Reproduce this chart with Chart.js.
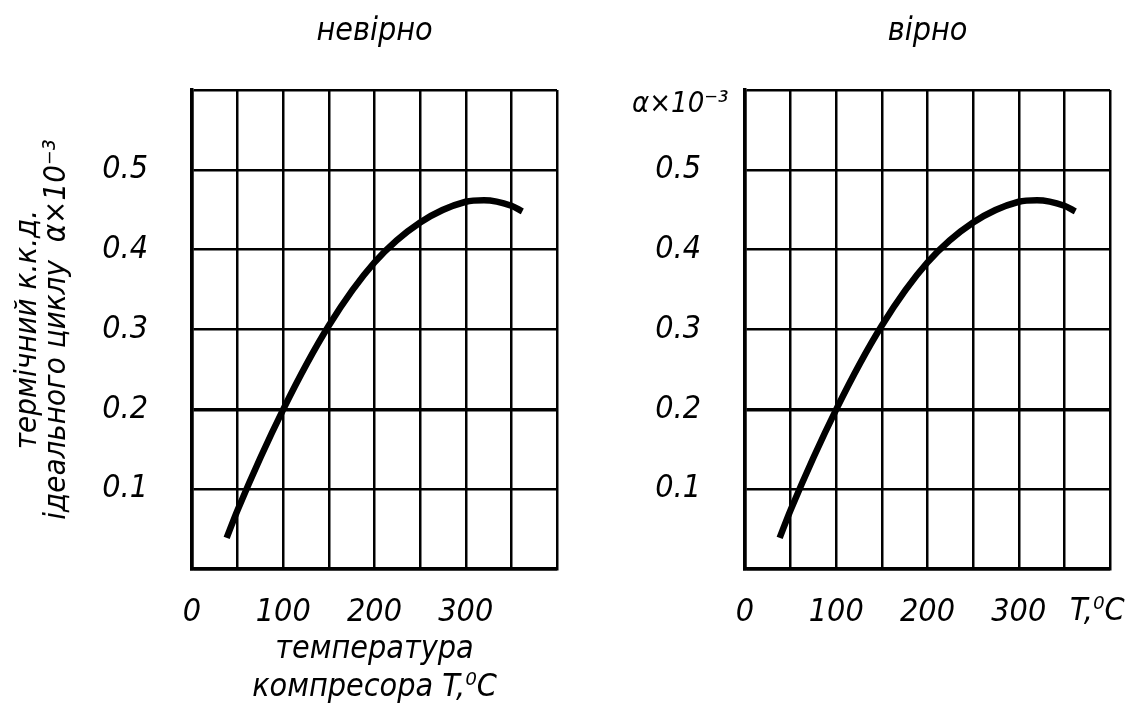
<!DOCTYPE html>
<html><head><meta charset="utf-8">
<script src="https://cdn.jsdelivr.net/npm/chart.js@4/dist/chart.umd.min.js"></script>
<style>
html,body{margin:0;padding:0;background:#fff;}
#wrap{position:relative;width:1130px;height:708px;overflow:hidden;}
.box{position:absolute;top:0;height:708px;width:565px;}
#b1{left:0;} #b2{left:565px;}
</style></head><body>
<div id="wrap">
  <div class="box" id="b1"><canvas id="c1" width="565" height="708"></canvas></div>
  <div class="box" id="b2"><canvas id="c2" width="565" height="708"></canvas></div>
</div>
<script>
// ---- data ----
const temperature = [38, 50, 100, 150, 200, 250, 300, 320, 350, 362];
const efficiency  = [0.039, 0.074, 0.2, 0.305, 0.384, 0.434, 0.46, 0.462, 0.455, 0.448];
const xTickLabels = ['0', '', '100', '', '200', '', '300', '', ''];
const yTickLabels = ['', '0.1', '0.2', '0.3', '0.4', '0.5', ''];
const titleWrong = 'невірно';
const titleRight = 'вірно';
const yTitleLines = ['термічний к.к.д.', 'ідеального циклу  α×10⁻³'];
const xTitleLines = ['температура', 'компресора T,⁰C'];
const yUnitText = 'α×10⁻³';
const xUnitText = 'T,⁰C';

const FAM = "'Liberation Sans Narrow', 'DejaVu Sans Condensed', 'DejaVu Sans', sans-serif";
const font = (size, lh) => ({family: FAM, style: 'italic', weight: 'normal', size: size, lineHeight: lh || 1.2});

function makeConfig(opts) {
  return {
    type: 'line',
    data: {
      datasets: [{
        data: temperature.map((t, i) => ({x: t, y: efficiency[i]})),
        borderColor: '#000',
        borderWidth: 6.5,
        pointRadius: 0,
        fill: false,
        cubicInterpolationMode: 'monotone',
        borderCapStyle: 'butt'
      }]
    },
    options: {
      responsive: false,
      animation: false,
      events: [],
      layout: {padding: {left: 0, right: opts.padRight, top: 0, bottom: 0}},
      plugins: {
        legend: {display: false},
        tooltip: {enabled: false},
        title: {
          display: true,
          text: opts.title,
          fullSize: false,
          color: '#000',
          font: font(32),
          padding: {top: 12, bottom: 39.6}
        }
      },
      scales: {
        x: {
          type: 'linear',
          min: 0, max: 400,
          afterFit: s => { s.height = 139; s.paddingLeft = 0; s.paddingRight = 0; },
          ticks: {
            stepSize: 50, autoSkip: false, maxRotation: 0, minRotation: 0,
            color: '#000', font: font(32), padding: 24,
            callback: (v, i) => xTickLabels[i]
          },
          grid: {color: '#000', lineWidth: 2.5, drawTicks: false},
          border: {display: true, color: '#000', width: 3.5},
          title: opts.xTitle ? {
            display: true, text: xTitleLines, color: '#000',
            font: font(32, 1.19), padding: {top: 0, bottom: 1}
          } : {display: false}
        },
        y: {
          type: 'linear',
          min: 0, max: 0.6,
          afterFit: s => { s.width = opts.yWidth; s.paddingTop = 0; s.paddingBottom = 0; },
          ticks: {
            stepSize: 0.1, autoSkip: false,
            color: '#000', font: font(32), padding: 44,
            callback: (v, i) => yTickLabels[i]
          },
          grid: {
            color: '#000', drawTicks: false,
            lineWidth: c => (c.tick && Math.abs(c.tick.value - 0.2) < 1e-9) ? 3.5 : 2.5
          },
          border: {display: true, color: '#000', width: 3.5},
          title: opts.yTitle ? {
            display: true, text: yTitleLines, color: '#000',
            font: font(31, 0.95), padding: {top: 13, bottom: 0}
          } : {display: false}
        }
      }
    },
    plugins: opts.plugins || []
  };
}

const unitPlugin = {
  id: 'units',
  afterDraw(chart) {
    const {ctx, chartArea} = chart;
    ctx.save();
    ctx.fillStyle = '#000';
    ctx.textBaseline = 'middle';
    ctx.textAlign = 'left';
    ctx.font = "italic 29px " + FAM;
    ctx.fillText(yUnitText, chartArea.left - 113, chartArea.top + 14);
    ctx.font = "italic 32px " + FAM;
    ctx.fillText(xUnitText, chartArea.right - 40, chartArea.bottom + 43);
    ctx.restore();
  }
};

new Chart(document.getElementById('c1'), makeConfig({
  title: titleWrong, padRight: 8, yWidth: 192, xTitle: true, yTitle: true
}));
new Chart(document.getElementById('c2'), makeConfig({
  title: titleRight, padRight: 20, yWidth: 180, xTitle: false, yTitle: false,
  plugins: [unitPlugin]
}));
</script>
</body></html>
